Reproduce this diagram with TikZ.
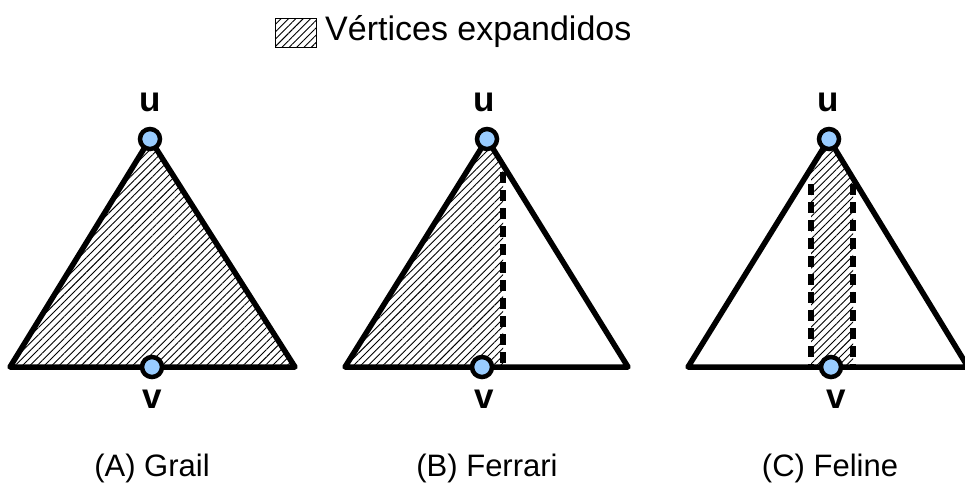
\documentclass[tikz,border=0pt]{standalone}
\usepackage{fontspec}
\setmainfont{Liberation Sans}
\usetikzlibrary{patterns.meta}
\definecolor{vblue}{RGB}{153,204,255}

\begin{document}
\begin{tikzpicture}[x=1pt, y=-1pt,
  tri/.style={line width=5.5pt, line join=round},
  hatch/.style={pattern={Lines[angle=45, distance=5.2pt, line width=0.9pt]}},
  cut/.style={line width=5.5pt, dash pattern=on 11pt off 7pt},
  vert/.style={circle, draw, line width=4.5pt, fill=vblue, minimum size=20pt, inner sep=0pt},
  lbl/.style={font=\fontsize{35}{35}\selectfont\bfseries, inner sep=0pt},
  caption/.style={font=\fontsize{31}{36}\selectfont}]
  \clip (0,0) rectangle (965,491);
  % legend
  \draw[hatch, line width=0.9pt] (275,18) rectangle (316,47);
  \node[font=\fontsize{34}{38}\selectfont, anchor=west, inner sep=0pt] (legend) at (325,32) {Vértices expandidos};

  % (A) Grail
  \fill[hatch] (150,139) -- (10,367) -- (295,367) -- cycle;
  \draw[tri] (150,139) -- (10,367) -- (295,367) -- cycle;
  \node[vert] (uA) at (150,139) {};
  \node[vert] (vA) at (152,367) {};
  \node[lbl] (uAl) at (150,102) {u};
  \node[lbl] (vAl) at (152,399) {v};
  \node[caption] (capA) at (152,468) {(A) Grail};

  % (B) Ferrari
  \fill[hatch] (487,139) -- (345,367) -- (503,367) -- (503,165) -- cycle;
  \draw[cut] (503,172) -- (503,367);
  \draw[tri] (487,139) -- (345,367) -- (628,367) -- cycle;
  \node[vert] (uB) at (487,139) {};
  \node[vert] (vB) at (482,367) {};
  \node[lbl] (uBl) at (484,102) {u};
  \node[lbl] (vBl) at (484,399) {v};
  \node[caption] (capB) at (487,468) {(B) Ferrari};

  % (C) Feline
  \fill[hatch] (829,139) -- (811,168) -- (811,367) -- (853,367) -- (853,178) -- cycle;
  \draw[cut] (811,184) -- (811,367);
  \draw[cut] (853,184) -- (853,367);
  \draw[tri] (829,139) -- (688,367) -- (968,367) -- cycle;
  \node[vert] (uC) at (829,139) {};
  \node[vert] (vC) at (831,367) {};
  \node[lbl] (uCl) at (828,102) {u};
  \node[lbl] (vCl) at (836,399) {v};
  \node[caption] (capC) at (830,468) {(C) Feline};
\end{tikzpicture}
\end{document}
